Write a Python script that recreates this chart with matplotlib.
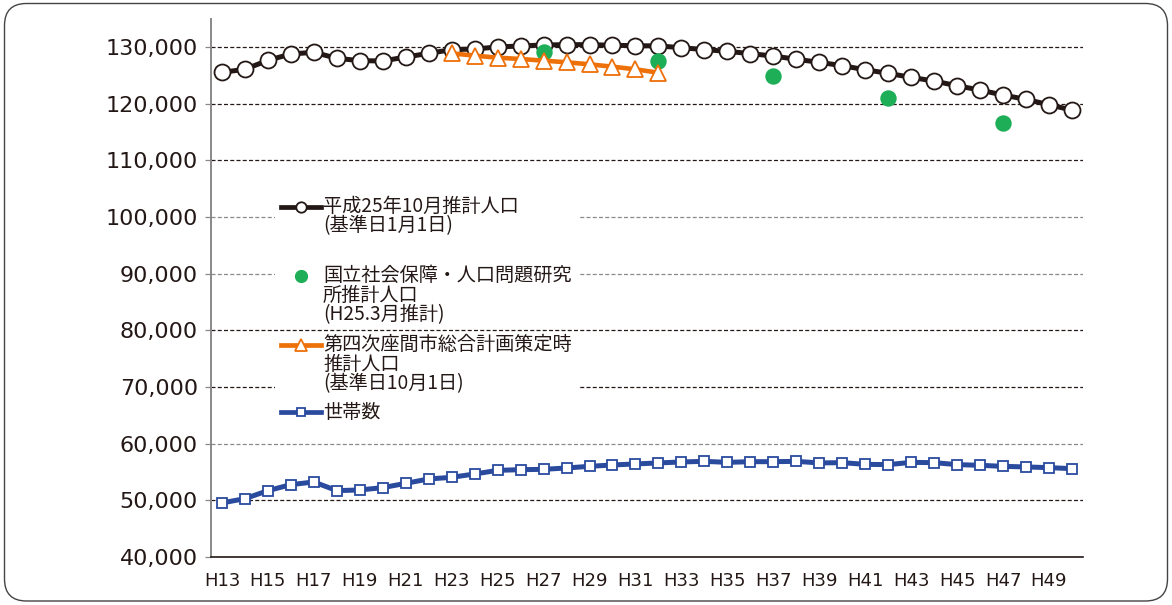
import numpy as np
import matplotlib
matplotlib.use("Agg")
import matplotlib.pyplot as plt
from matplotlib.lines import Line2D
from matplotlib.patches import Rectangle, FancyBboxPatch

# years (Heisei)
years = ["H13", "H14", "H15", "H16", "H17", "H18", "H19", "H20", "H21", "H22",
         "H23", "H24", "H25", "H26", "H27", "H28", "H29", "H30", "H31", "H32",
         "H33", "H34", "H35", "H36", "H37", "H38", "H39", "H40", "H41", "H42",
         "H43", "H44", "H45", "H46", "H47", "H48", "H49", "H50"]

# 平成25年10月推計人口
pop_h25 = [125530, 126060, 127650, 128760, 129060, 128000, 127590, 127530, 128230, 128880,
           129530, 129650, 130000, 130180, 130350, 130410, 130410, 130300, 130230, 130180,
           129880, 129530, 129240, 128820, 128410, 127830, 127300, 126700, 125990, 125350,
           124640, 123990, 123160, 122400, 121520, 120760, 119810, 118870]

# 国立社会保障・人口問題研究所推計
ipss_years = ["H27", "H32", "H37", "H42", "H47"]
ipss_pop = [129170, 127590, 124820, 121040, 116630]

# 第四次座間市総合計画策定時推計
plan_years = ["H23", "H24", "H25", "H26", "H27", "H28", "H29", "H30", "H31", "H32"]
plan_pop = [128880, 128470, 128110, 127880, 127590, 127300, 126940, 126520, 126060, 125460]

# 世帯数
households = [49540, 50300, 51710, 52770, 53240, 51710, 51830, 52240, 53000, 53770,
              54060, 54650, 55290, 55410, 55470, 55710, 56000, 56240, 56420, 56600,
              56770, 56880, 56700, 56820, 56820, 56880, 56600, 56650, 56350, 56300,
              56700, 56650, 56300, 56180, 56000, 55890, 55770, 55590]

yticks = [40000, 50000, 60000, 70000, 80000, 90000, 100000, 110000, 120000, 130000]
dark_grid = [50000, 70000, 80000, 110000, 120000, 130000]

c_black = "#231815"
c_orange = "#EE7009"
c_green = "#1DAE57"
c_blue = "#2A4A9E"

W, H = 1172, 605
fig = plt.figure(figsize=(W / 100, H / 100), dpi=100)
ax = fig.add_axes([210.5 / W, 1 - 557 / H, (1083.4 - 210.5) / W, (557 - 18.65) / H])

x = np.arange(len(years))
idx = {y: i for i, y in enumerate(years)}

for v in yticks[1:]:
    col = c_black if v in dark_grid else "#8a8a8a"
    ax.axhline(v, color=col, lw=0.9, ls=(0, (3.2, 1.8)), zorder=1)

ax.plot(x, pop_h25, color=c_black, lw=3.6, marker="o", ms=11.5, mfc="white",
        mec=c_black, mew=1.3, zorder=4)
ax.plot([idx[y] for y in ipss_years], ipss_pop, ls="none", marker="o", ms=10.8,
        color=c_green, mec=c_green, zorder=5)
ax.plot([idx[y] for y in plan_years], plan_pop, color=c_orange, lw=3.3, marker="^",
        ms=11, mfc="white", mec=c_orange, mew=1.3, zorder=6)
ax.plot(x, households, color=c_blue, lw=3.6, marker="s", ms=6.8, mfc="white",
        mec=c_blue, mew=1.3, zorder=4)

ax.set_xlim(-0.5, 37.5)
ax.set_ylim(40000, 135000)
ax.set_yticks(yticks)
ax.set_yticklabels([f"{v:,}" for v in yticks], fontsize=16, color=c_black)
ax.set_xticks(x[::2])
ax.set_xticklabels(years[::2], fontsize=13, color=c_black)
ax.tick_params(axis="x", length=0, pad=11)
ax.tick_params(axis="y", length=4, width=0.9, color="#888888", pad=5)
for s in ["top", "right"]:
    ax.spines[s].set_visible(False)
ax.spines["left"].set_color("#888888")
ax.spines["left"].set_linewidth(1.4)
ax.spines["bottom"].set_color(c_black)
ax.spines["bottom"].set_linewidth(1.2)


# legend drawn by hand (pixel positions)
def fx(px):
    return px / W


def fy(py):
    return 1 - py / H


for top, bot in [(196, 236), (265, 325), (334, 393), (402, 422)]:
    fig.add_artist(Rectangle((fx(275), fy(bot)), fx(580) - fx(275), (bot - top) / H,
                             transform=fig.transFigure, facecolor="white",
                             edgecolor="none", zorder=2))

handles = [
    (207, c_black, "o", 7.5),
    (345, c_orange, "^", 8),
    (412, c_blue, "s", 6),
]
for py, col, mk, ms in handles:
    fig.add_artist(Line2D([fx(281), fx(321)], [fy(py), fy(py)], color=col, lw=3.4,
                          transform=fig.transFigure, zorder=3))
    fig.add_artist(Line2D([fx(301)], [fy(py)], ls="none", marker=mk, ms=ms, mfc="white",
                          mec=col, mew=1.3, transform=fig.transFigure, zorder=4))
fig.add_artist(Line2D([fx(301)], [fy(276)], ls="none", marker="o", ms=8.5, color=c_green,
                      transform=fig.transFigure, zorder=4))

leg_lines = [
    (206.5, "平成25年10月推計人口"),
    (226, "(基準日1月1日)"),
    (275, "国立社会保障・人口問題研究"),
    (295, "所推計人口"),
    (315, "(H25.3月推計)"),
    (344.5, "第四次座間市総合計画策定時"),
    (364.5, "推計人口"),
    (383.5, "(基準日10月1日)"),
    (412, "世帯数"),
]
for py, txt in leg_lines:
    fig.text(fx(323), fy(py), txt, fontsize=13.8, color=c_black, va="center", ha="left",
             family=["Noto Sans CJK JP", "DejaVu Sans"], zorder=5)

# rounded outer frame
fig.add_artist(FancyBboxPatch((0.045, 0.04), 11.63, 5.975,
                              boxstyle="round,pad=0,rounding_size=0.22",
                              transform=fig.dpi_scale_trans, facecolor="none",
                              edgecolor="#444444", lw=1.0, zorder=10))

fig.savefig("out.png", dpi=100)
